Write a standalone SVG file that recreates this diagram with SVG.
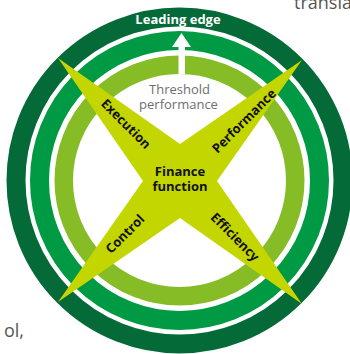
<svg xmlns="http://www.w3.org/2000/svg" width="350" height="354" viewBox="0 0 350 354">
<style>
.ring{fill:none}
.lbl{font-family:"Open Sans","DejaVu Sans",sans-serif;font-weight:700;font-size:13px;fill:#111;text-anchor:middle}
.gray{font-family:"Open Sans","DejaVu Sans",sans-serif;font-size:13px;fill:#6d6e71;text-anchor:middle}
.bg{font-family:"Open Sans","DejaVu Sans",sans-serif;font-size:18px;fill:#555}
</style>
<rect width="350" height="354" fill="#fff"/>
<text class="bg" x="294" y="9">transla</text>
<text class="bg" x="4" y="337">ol,</text>
<g id="rings">
<circle class="ring" cx="179.5" cy="180.5" r="163.5" stroke="#046a38" stroke-width="19"/>
<circle class="ring" cx="179.5" cy="180.5" r="140" stroke="#009a44" stroke-width="19"/>
<circle class="ring" cx="179.5" cy="180.5" r="115.75" stroke="#86bc25" stroke-width="18.5"/>
</g>
<g id="leading-edge">
<text x="178" y="24" font-family="Open Sans, DejaVu Sans, sans-serif" font-weight="700" font-size="13" fill="#fff" text-anchor="middle">Leading edge</text>
</g>
<g id="connectors">
<polygon points="181.5,33 191,47 185,47 185,74 178.5,74 178.5,47 172,47" fill="#fff"/>
</g>
<g id="threshold">
<text class="gray" x="179.5" y="94">Threshold</text>
<text class="gray" x="178.5" y="108.5">performance</text>
</g>
<g id="finance-function">
<polygon points="58,58 180,144 302,60 217,181 302,304 180,218 58,302 143,181" fill="#c4d600"/>
<text class="lbl" x="180" y="176">Finance</text>
<text class="lbl" x="180" y="191">function</text>
</g>
<g id="execution">
<text class="lbl" transform="translate(126,124) rotate(45)" y="4.5">Execution</text>
</g>
<g id="performance">
<text class="lbl" transform="translate(244,121) rotate(-45)" y="4.5">Performance</text>
</g>
<g id="control">
<text class="lbl" transform="translate(125,234) rotate(-45)" y="4.5">Control</text>
</g>
<g id="efficiency">
<text class="lbl" transform="translate(235,237) rotate(45)" y="4.5">Efficiency</text>
</g>
</svg>
